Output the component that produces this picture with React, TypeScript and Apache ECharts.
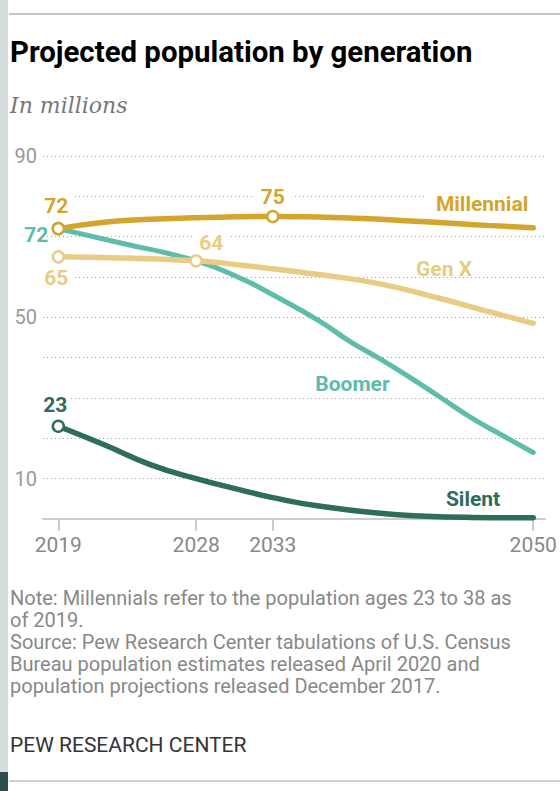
import React, { useEffect, useRef } from "react";
import * as echarts from "echarts";

// ---- data ----
const xTicks = [2019, 2028, 2033, 2050];
const yTickLabels = [10, 50, 90];

const millennialYears = [2019, 2022, 2025, 2028, 2033, 2038, 2043, 2047, 2050];
const millennialValues = [72, 73.6, 74.3, 74.7, 75, 74.6, 73.7, 72.8, 72.2];

const genXYears = [2019, 2023, 2028, 2031, 2036, 2040, 2044, 2047, 2050];
const genXValues = [65, 64.7, 64, 62.9, 60.6, 58.3, 54.6, 51.5, 48.5];

const boomerYears = [2019, 2023, 2028, 2031, 2033, 2036, 2038, 2040, 2042, 2044, 2046, 2048, 2050];
const boomerValues = [72, 68.5, 64, 59.5, 55.6, 49.2, 44.1, 39.7, 35, 30, 25, 20.7, 16.5];

const silentYears = [2019, 2022, 2025, 2028, 2031, 2033, 2036, 2040, 2043, 2046, 2050];
const silentValues = [23, 18.4, 13.5, 10, 7.1, 5.3, 3.2, 1.4, 0.7, 0.4, 0.3];

const TITLE = "Projected population by generation";
const SUBTITLE = "In millions";
const NOTE_LINES = [
  "Note: Millennials refer to the population ages 23 to 38 as",
  "of 2019.",
  "Source: Pew Research Center tabulations of U.S. Census",
  "Bureau population estimates released April 2020 and",
  "population projections released December 2017.",
];
const CREDIT = "PEW RESEARCH CENTER";

// ---- styles ----
const FONT = "Roboto";
const C_MILL = "#d4a52c";
const C_GENX = "#e8cc83";
const C_BOOM = "#5dbcaa";
const C_SIL = "#2e6c5b";

type LabelSpec = {
  year: number;
  kind: "value" | "name";
  dx: number;
  dy: number;
  align?: "left" | "center" | "right";
  bg?: boolean;
  padding?: number[];
};

function buildData(
  years: number[],
  values: number[],
  markerYears: number[],
  labels: LabelSpec[],
  color: string
) {
  return years.map((yr, i) => {
    const item: any = {
      value: [yr, values[i]],
      symbolSize: markerYears.includes(yr) ? 11 : 0,
    };
    const l = labels.find((s) => s.year === yr);
    if (l) {
      item.label = {
        show: true,
        position: "inside",
        offset: [l.dx, l.dy],
        align: l.align || "center",
        verticalAlign: "middle",
        color,
        fontFamily: FONT,
        fontWeight: "bold",
        fontSize: 21,
        backgroundColor: l.bg ? "#ffffff" : "transparent",
        padding: l.padding || [1, 3],
        formatter: (p: any) => (l.kind === "name" ? p.seriesName : String(p.value[1])),
      };
    }
    return item;
  });
}

function lineSeries(name: string, color: string, data: any[], width: number) {
  return {
    name,
    type: "line",
    data,
    smooth: 0.5,
    symbol: "circle",
    showSymbol: true,
    showAllSymbol: true,
    color,
    lineStyle: { color, width, cap: "round" },
    itemStyle: { color: "#ffffff", borderColor: color, borderWidth: 2.5 },
    label: { show: false },
    emphasis: { disabled: true },
    silent: true,
  };
}

export default function App() {
  const ref = useRef<HTMLDivElement>(null);

  useEffect(() => {
    document.body.style.margin = "0";
    if (!ref.current) return;
    const chart = echarts.init(ref.current, undefined, { renderer: "svg" });

    const silentData = buildData(silentYears, silentValues, [2019], [
      { year: 2019, kind: "value", dx: -3, dy: -21, bg: true },
      { year: 2050, kind: "name", dx: -30, dy: -19, align: "right" },
    ], C_SIL);

    const boomerData = buildData(boomerYears, boomerValues, [2019], [
      { year: 2019, kind: "value", dx: -8, dy: 6, align: "right", padding: [1, 2] },
      { year: 2042, kind: "name", dx: -18, dy: 6, align: "right" },
    ], C_BOOM);

    const genXData = buildData(genXYears, genXValues, [2019, 2028], [
      { year: 2019, kind: "value", dx: -2, dy: 21, bg: true, padding: [2, 5] },
      { year: 2028, kind: "value", dx: 15, dy: -18, bg: true, padding: [1, 7] },
      { year: 2040, kind: "name", dx: 64, dy: -15 },
    ], C_GENX);

    const millData = buildData(millennialYears, millennialValues, [2019, 2033], [
      { year: 2019, kind: "value", dx: -2, dy: -23, bg: true, padding: [2, 5] },
      { year: 2033, kind: "value", dx: 0, dy: -20, bg: true, padding: [2, 7] },
      { year: 2050, kind: "name", dx: 12, dy: -24, align: "right", bg: true, padding: [2, 17, 2, 10] },
    ], C_MILL);

    const graphics: any[] = [
      { type: "rect", shape: { x: 0, y: 0, width: 8, height: 772 }, style: { fill: "#d5dcdc" }, silent: true },
      { type: "rect", shape: { x: 0, y: 772, width: 8, height: 19 }, style: { fill: "#2e4d4f" }, silent: true },
      { type: "rect", shape: { x: 9, y: 13, width: 551, height: 2 }, style: { fill: "#c6c6c6" }, silent: true },
      { type: "rect", shape: { x: 9, y: 780, width: 551, height: 2 }, style: { fill: "#d0d0d0" }, silent: true },
      {
        type: "text", x: 10, y: 52,
        style: { text: TITLE, fill: "#000", font: `bold 29.4px ${FONT}`, textAlign: "left", textVerticalAlign: "middle" },
        silent: true,
      },
      {
        type: "text", x: 10, y: 105,
        style: { text: SUBTITLE, fill: "#777", font: `italic 22px "DejaVu Serif"`, textAlign: "left", textVerticalAlign: "middle" },
        silent: true,
      },
      ...NOTE_LINES.map((t, i) => ({
        type: "text", x: 10, y: 598 + i * 22,
        style: { text: t, fill: "#888", font: `20px ${FONT}`, textAlign: "left", textVerticalAlign: "middle" },
        silent: true,
      })),
      {
        type: "text", x: 10, y: 745,
        style: { text: CREDIT, fill: "#333", font: `21px ${FONT}`, textAlign: "left", textVerticalAlign: "middle" },
        silent: true,
      },
    ];

    chart.setOption({
      animation: false,
      backgroundColor: "#ffffff",
      textStyle: { fontFamily: FONT },
      graphic: graphics,
      grid: { left: 43, top: 156, width: 502, height: 363, containLabel: false },
      xAxis: {
        type: "value",
        min: 2018,
        max: 2050.77,
        splitLine: { show: false },
        axisLine: { show: true, lineStyle: { color: "#cccccc", width: 2 } },
        axisTick: {
          show: true,
          customValues: xTicks,
          length: 12,
          lineStyle: { color: "#bbbbbb", width: 1.5 },
        },
        axisLabel: {
          show: true,
          customValues: xTicks,
          fontSize: 21,
          color: "#888888",
          fontFamily: FONT,
          margin: 15,
          formatter: (v: number) => String(v),
        },
      },
      yAxis: {
        type: "value",
        min: 0,
        max: 90,
        interval: 10,
        axisLine: { show: false },
        axisTick: { show: false },
        axisLabel: {
          show: true,
          fontSize: 20,
          color: "#999999",
          fontFamily: FONT,
          margin: 6,
          formatter: (v: number) => (yTickLabels.includes(v) ? String(v) : ""),
        },
        splitLine: { show: true, lineStyle: { color: "#a0a0a0", width: 1, type: [1, 3] } },
      },
      series: [
        lineSeries("Silent", C_SIL, silentData, 5.5),
        lineSeries("Boomer", C_BOOM, boomerData, 5),
        lineSeries("Gen X", C_GENX, genXData, 5.5),
        lineSeries("Millennial", C_MILL, millData, 5.5),
      ],
    });

    return () => chart.dispose();
  }, []);

  return <div ref={ref} style={{ width: 560, height: 791 }} />;
}
